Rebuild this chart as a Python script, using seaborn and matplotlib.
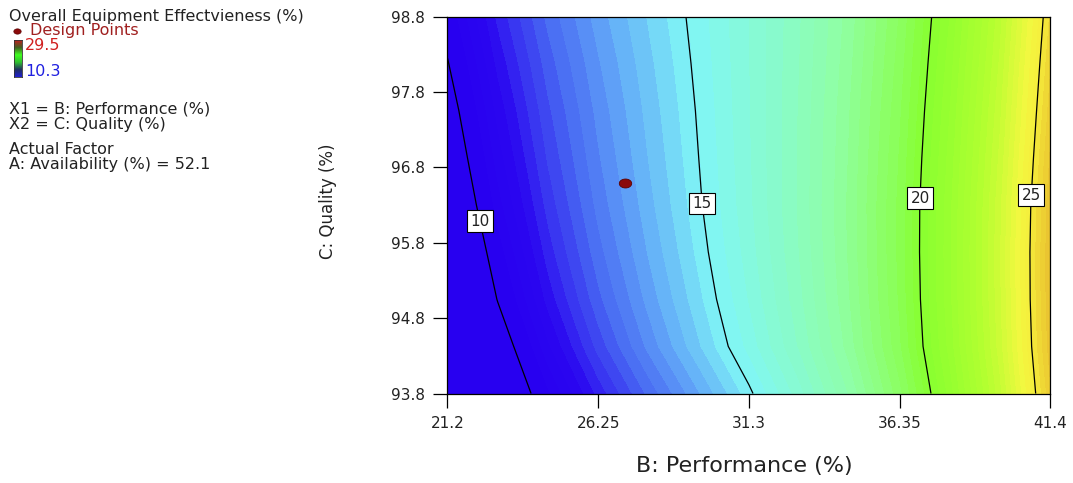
import numpy as np
import matplotlib
matplotlib.use("Agg")
import matplotlib.pyplot as plt
import seaborn as sns
import pandas as pd
from matplotlib.colors import LinearSegmentedColormap, Normalize

# ---------------- data ----------------
performance_b = [21.2, 22.883, 24.567, 26.25, 27.933, 29.617, 31.3,
                 32.983, 34.667, 36.35, 38.033, 39.717, 41.4]
quality_c = [93.8, 94.425, 95.05, 95.675, 96.3, 96.925, 97.55, 98.175, 98.8]
oee_grid = [
    [7.14, 8.99, 10.51, 11.78, 12.88, 13.89, 14.91, 16.02, 17.29, 18.83, 20.71, 23.01, 25.83],
    [7.55, 9.50, 11.07, 12.35, 13.44, 14.43, 15.40, 16.45, 17.67, 19.15, 20.98, 23.25, 26.05],
    [8.18, 10.03, 11.51, 12.72, 13.74, 14.67, 15.60, 16.61, 17.80, 19.25, 21.07, 23.33, 26.13],
    [8.61, 10.39, 11.82, 12.97, 13.94, 14.83, 15.72, 16.70, 17.86, 19.29, 21.09, 23.35, 26.14],
    [9.02, 10.72, 12.07, 13.17, 14.09, 14.94, 15.79, 16.74, 17.88, 19.29, 21.07, 23.31, 26.09],
    [9.35, 10.98, 12.28, 13.32, 14.20, 15.00, 15.82, 16.73, 17.84, 19.23, 20.98, 23.18, 25.93],
    [9.64, 11.22, 12.46, 13.45, 14.29, 15.05, 15.84, 16.72, 17.80, 19.15, 20.87, 23.04, 25.75],
    [9.96, 11.48, 12.66, 13.60, 14.39, 15.11, 15.85, 16.69, 17.73, 19.05, 20.74, 22.88, 25.57],
    [10.29, 11.75, 12.88, 13.77, 14.50, 15.17, 15.86, 16.66, 17.66, 18.95, 20.60, 22.72, 25.38],
]
contour_levels = [10, 15, 20, 25]
contour_label_pos = [(22.23, 96.08), (29.74, 96.32), (37.07, 96.39), (40.79, 96.43)]
design_b = [27.15]
design_c = [96.59]
oee_min, oee_max = 10.3, 29.5
x_ticks = [21.2, 26.25, 31.3, 36.35, 41.4]
x_tick_labels = ["21.2", "26.25", "31.3", "36.35", "41.4"]
y_ticks = [93.8, 94.8, 95.8, 96.8, 97.8, 98.8]
y_tick_labels = ["93.8", "94.8", "95.8", "96.8", "97.8", "98.8"]

# ---------------- style ----------------
sns.set_style("white")
plt.rcParams["font.family"] = ["DejaVu Sans"]

fig = plt.figure(figsize=(10.73, 4.83), dpi=100)
ax = fig.add_axes([0.417, 0.1853, 0.562, 0.7805])

def vnode(v):
    return (v - oee_min) / (oee_max - oee_min)

cmap = LinearSegmentedColormap.from_list("de", [
    (vnode(10.3), "#2800f0"),
    (vnode(11.4), "#2a06f0"),
    (vnode(12.8), "#4868f2"),
    (vnode(13.9), "#62a8f8"),
    (vnode(15.0), "#80f6f6"),
    (vnode(17.5), "#90ffa4"),
    (vnode(20.0), "#88ff30"),
    (vnode(22.5), "#b4ff30"),
    (vnode(24.4), "#f2f840"),
    (vnode(25.0), "#f6ee3c"),
    (vnode(25.6), "#eed434"),
    (vnode(26.2), "#e8c030"),
    (vnode(29.5), "#c42020"),
])
cmap.set_under("#2800f0")
cmap.set_over("#c42020")
norm = Normalize(oee_min, oee_max)

B, C = np.meshgrid(performance_b, quality_c)
Z = np.array(oee_grid)
fill_levels = np.linspace(oee_min, oee_max, 70)
ax.contourf(B, C, Z, levels=fill_levels, cmap=cmap, norm=norm, extend="both")
cs = ax.contour(B, C, Z, levels=contour_levels, colors="black", linewidths=0.9)
labels = ax.clabel(cs, inline=False, fontsize=11, fmt="%d", manual=contour_label_pos)
for t in labels:
    t.set_rotation(0)
    t.set_color("#222222")
    t.set_bbox(dict(facecolor="white", edgecolor="black", linewidth=0.8,
                    boxstyle="square,pad=0.22"))
    t.set_zorder(5)

# design point
theta = np.linspace(0, 2 * np.pi, 40)
ell = list(zip(np.cos(theta), 0.72 * np.sin(theta)))
dp = pd.DataFrame({"B": design_b, "C": design_c})
sns.scatterplot(data=dp, x="B", y="C", ax=ax, marker=ell, s=80,
                color="#8b0a0a", edgecolor="#5a0000", linewidth=0.6, zorder=6, legend=False)

ax.set_xlim(performance_b[0], performance_b[-1])
ax.set_ylim(quality_c[0], quality_c[-1])
ax.set_xticks(x_ticks)
ax.set_xticklabels(x_tick_labels)
ax.set_yticks(y_ticks)
ax.set_yticklabels(y_tick_labels)
ax.tick_params(axis="both", direction="out", length=10, width=0.9, color="black",
               labelsize=11, labelcolor="#222222", bottom=True, left=True,
               top=False, right=False)
ax.tick_params(axis="x", pad=6)
ax.tick_params(axis="y", pad=6)
for sp in ax.spines.values():
    sp.set_visible(True)
    sp.set_color("black")
    sp.set_linewidth(0.9)

ax.set_xlabel("B: Performance (%)", fontsize=16, color="#222222")
ax.set_ylabel("C: Quality (%)", fontsize=12, color="#222222")
ax.xaxis.set_label_coords(0.493, -0.165)
ax.yaxis.set_label_coords(-0.183, 0.51)

# ---------------- left legend block ----------------
def fy(py):
    return 1 - py / 483.0

def fx(px):
    return px / 1073.0

fs = 11.5
txt_kw = dict(fontsize=fs, va="center", ha="left", color="#222222")
fig.text(fx(9), fy(17), "Overall Equipment Effectvieness (%)", **txt_kw)
fig.text(fx(30), fy(31), "Design Points", fontsize=fs, va="center", ha="left", color="#a02020")
fig.text(fx(25), fy(45), f"{oee_max}", fontsize=fs, va="center", ha="left", color="#d02020")
fig.text(fx(25), fy(71), f"{oee_min}", fontsize=fs, va="center", ha="left", color="#2020e0")
fig.text(fx(9), fy(109), "X1 = B: Performance (%)", **txt_kw)
fig.text(fx(9), fy(124), "X2 = C: Quality (%)", **txt_kw)
fig.text(fx(9), fy(150), "Actual Factor", **txt_kw)
fig.text(fx(9), fy(164), "A: Availability (%) = 52.1", **txt_kw)

# design point legend marker
lax = fig.add_axes([fx(13), fy(35), fx(8), fy(27) - fy(35)])
lax.scatter([0], [0], marker=ell, s=28, color="#8b0a0a", edgecolor="#5a0000", linewidths=0.5)
lax.set_xlim(-1, 1)
lax.set_ylim(-1, 1)
lax.axis("off")

# small colour bar swatch
cbax = fig.add_axes([fx(14), fy(77), fx(8), fy(40) - fy(77)])
legend_cmap = LinearSegmentedColormap.from_list("leg", ["#2020d0", "#203060", "#30c030",
                                                        "#40ff20", "#406020", "#c02020"])
grad = np.linspace(0, 1, 100).reshape(-1, 1)
cbax.imshow(grad, aspect="auto", cmap=legend_cmap, origin="lower")
cbax.set_xticks([])
cbax.set_yticks([])
for sp in cbax.spines.values():
    sp.set_color("#333333")
    sp.set_linewidth(0.6)

fig.savefig("out.png", dpi=100)
